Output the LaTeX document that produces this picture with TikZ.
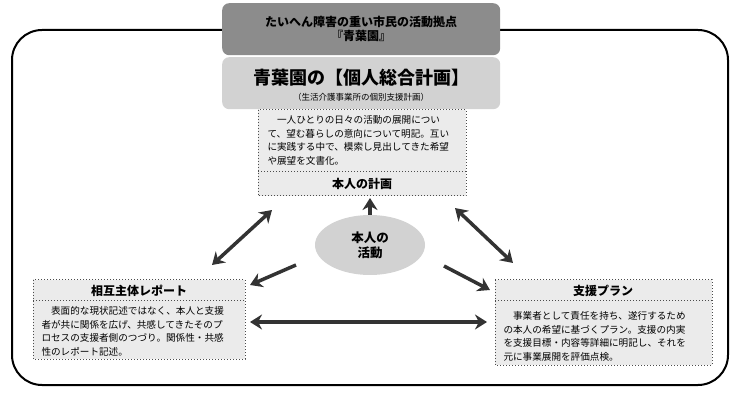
\documentclass[tikz,border=0pt]{standalone}
\usepackage{fontspec}
\setmainfont{Noto Sans CJK JP}
\usetikzlibrary{arrows.meta,shapes.geometric}
\definecolor{dk}{HTML}{8C8C8C}
\definecolor{lt}{HTML}{D2D2D2}
\definecolor{bx}{HTML}{EBEBEB}
\definecolor{ar}{HTML}{333333}
\tikzset{
 dbox/.style={draw=black!70,dotted,line width=1pt,fill=bx},
 body/.style={align=left,font=\fontsize{9.6}{13.5}\selectfont},
 ttl/.style={font=\fontsize{12}{13}\selectfont\bfseries},
 arr/.style={ar,line width=3.5pt,-{Stealth[length=12pt,width=15pt]}},
 darr/.style={ar,line width=3.5pt,{Stealth[length=12pt,width=15pt]}-{Stealth[length=12pt,width=15pt]}},
}
\begin{document}
\begin{tikzpicture}[x=1pt,y=-1pt]
\useasboundingbox (0,0) rectangle (740,401);
\draw[line width=2pt,rounded corners=30pt] (12,30) rectangle (728,385);
\node[draw=none,fill=dk,rounded corners=7pt,minimum width=278pt,minimum height=52pt,anchor=north west,inner sep=0pt] (hd) at (222,3) {};
\node[align=center,font=\fontsize{12}{14}\selectfont\bfseries] (hdt) at (361,29) {たいへん障害の重い市民の活動拠点\\『青葉園』};
\node[fill=lt,rounded corners=7pt,minimum width=278pt,minimum height=52pt,anchor=north west,inner sep=0pt] (lb) at (222,57) {};
\node[font=\fontsize{18}{19}\selectfont\bfseries] (lbt) at (361,78) {青葉園の【個人総合計画】};
\node[font=\fontsize{8.5}{9}\selectfont] (lbs) at (361,97) {（生活介護事業所の個別支援計画）};
% top box
\draw[dbox] (258,110) rectangle (466,196);
\draw[black!70,dotted,line width=1pt] (258,172) -- (466,172);
\node[body,anchor=north west] (tb) at (264,112) {\hspace{1em}一人ひとりの日々の活動の展開につい\\て、望む暮らしの意向について明記。互い\\に実践する中で、模索し見出してきた希望\\や展望を文書化。};
\node[ttl] (tt) at (362,184) {本人の計画};
% left box
\draw[dbox] (33,280) rectangle (245,359);
\draw[black!70,dotted,line width=1pt] (33,301) -- (245,301);
\node[ttl] (lt) at (139,291) {相互主体レポート};
\node[body,anchor=north west] (lbd) at (38,303) {\hspace{1em}表面的な現状記述ではなく、本人と支援\\者が共に関係を広げ、共感してきたそのプ\\ロセスの支援者側のつづり。関係性・共感\\性のレポート記述。};
% right box
\draw[dbox] (495,280) rectangle (712,365);
\draw[black!70,dotted,line width=1pt] (495,301) -- (712,301);
\node[ttl] (rt) at (603,291) {支援プラン};
\node[body,anchor=north west] (rbd) at (500,308) {\hspace{1em}事業者として責任を持ち、遂行するため\\の本人の希望に基づくプラン。支援の内実\\を支援目標・内容等詳細に明記し、それを\\元に事業展開を評価点検。};
% ellipse
\node[ellipse,fill=lt,minimum width=110pt,minimum height=60pt,align=center,font=\fontsize{12.5}{15}\selectfont\bfseries] (e) at (370,245) {本人の\\活動};
\coordinate (u1) at (370,215); \coordinate (u2) at (370,198);
\draw[arr] (u1) -- (u2);
\coordinate (a1) at (272,210); \coordinate (a2) at (212,265);
\draw[darr] (a1) -- (a2);
\coordinate (b1) at (455,208); \coordinate (b2) at (513,263);
\draw[darr] (b1) -- (b2);
\coordinate (c1) at (296,265); \coordinate (c2) at (250,285);
\draw[arr] (c1) -- (c2);
\coordinate (d1) at (444,266); \coordinate (d2) at (490,290);
\draw[arr] (d1) -- (d2);
\coordinate (h1) at (250,322); \coordinate (h2) at (487,322);
\draw[darr] (h1) -- (h2);
\end{tikzpicture}
\end{document}
